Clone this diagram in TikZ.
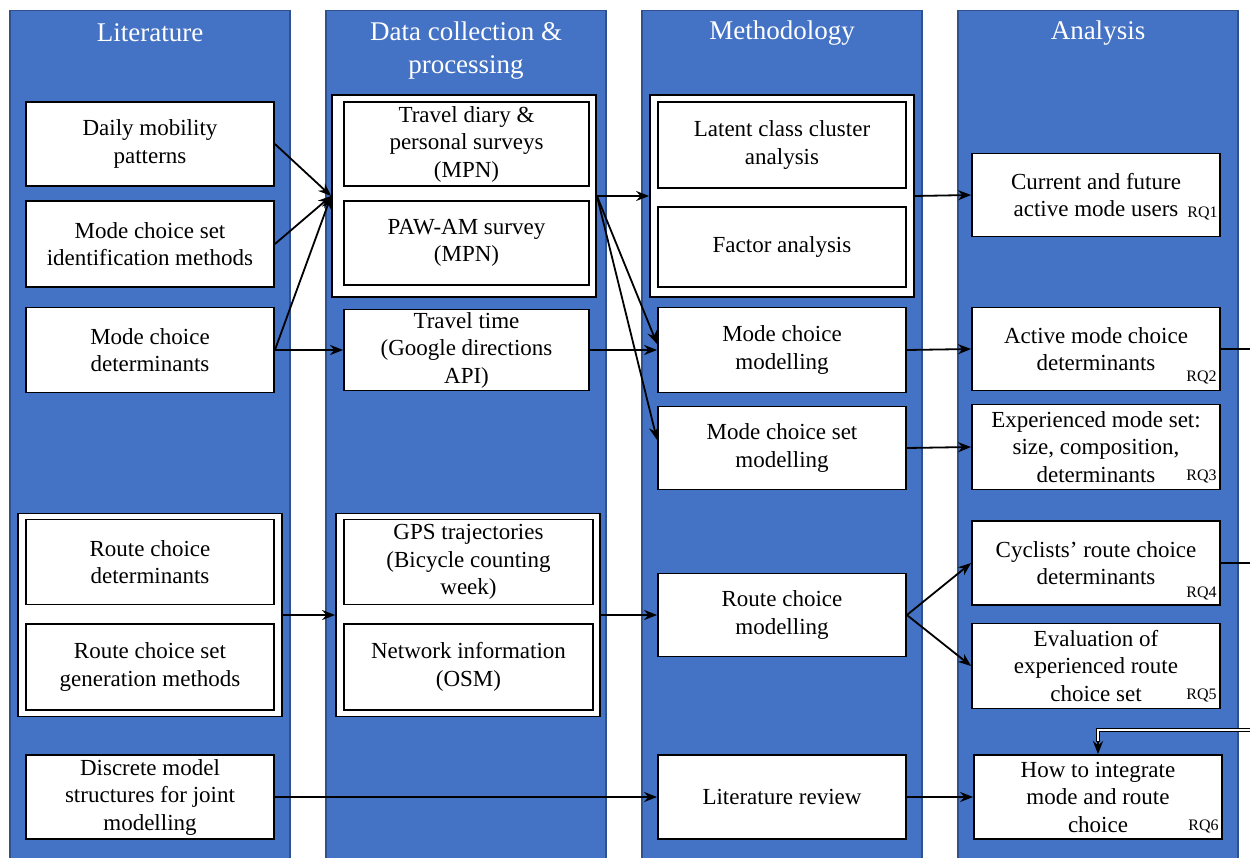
\documentclass[tikz,border=0pt]{standalone}
\usepackage{fontspec}
\setmainfont{Liberation Serif}
\usetikzlibrary{arrows.meta}
\definecolor{colfill}{HTML}{4472C4}
\definecolor{colline}{HTML}{2F528F}
\begin{document}
\begin{tikzpicture}[x=1pt,y=-1pt,
  column/.style={draw=colline, line width=1.2pt, fill=colfill, minimum width=280pt,
    minimum height=856pt, anchor=north, inner sep=0},
  head/.style={text=white, font=\fontsize{27}{33}\selectfont, align=center},
  box/.style={draw, fill=white, line width=1.8pt, minimum width=248pt, align=center,
    inner sep=0, font=\fontsize{23}{27.5}\selectfont},
  group/.style={draw, fill=white, line width=1.8pt, minimum width=264pt, inner sep=0},
  rq/.style={font=\fontsize{16}{16}\selectfont, anchor=base east, inner sep=0},
  arr/.style={line width=1.8pt, -{Stealth[length=13pt,width=10pt]}},
  plain/.style={line width=1.8pt},
  dbl/.style={draw=black, line width=1pt, double=white, double distance=1.2pt},
]
\useasboundingbox (0,0) rectangle (1250,858);

% four column bands
\node[column] (col1) at (150,10) {};
\node[column] (col2) at (466,10) {};
\node[column] (col3) at (782,10) {};
\node[column] (col4) at (1098,10) {};

\node[head] (h1) at (150,33) {Literature};
\node[head] (h2) at (466,51) {Data collection \&\\processing};
\node[head] (h3) at (782,33) {Methodology};
\node[head] (h4) at (1098,33) {Analysis};

% Literature
\node[box, minimum height=84pt] (dmp) at (150,144) {Daily mobility\\patterns};
\node[box, minimum height=86pt] (mcsid) at (150,244) {Mode choice set\\identification methods};
\node[box, minimum height=85pt] (mcd) at (150,350) {Mode choice\\determinants};
\node[group, minimum height=203pt] (grpA) at (150,615) {};
\node[box, minimum height=85pt] (rcd) at (150,562) {Route choice\\determinants};
\node[box, minimum height=86pt] (rcsg) at (150,667) {Route choice set\\generation methods};
\node[box, minimum height=84pt] (dms) at (150,797) {Discrete model\\structures for joint\\modelling};

% Data collection & processing
\node[group, minimum height=202pt] (grpB) at (464,196) {};
\node[box, minimum width=245pt, minimum height=84pt] (diary) at (466.5,144) {Travel diary \&\\personal surveys\\(MPN)};
\node[box, minimum width=245pt, minimum height=84pt] (pawam) at (466.5,243) {PAW-AM survey\\(MPN)};
\node[box, minimum width=245pt, minimum height=81pt] (ttime) at (466.5,350) {Travel time\\(Google directions\\API)};
\node[group, minimum height=203pt] (grpC) at (468,615) {};
\node[box, minimum width=249pt, minimum height=85pt] (gps) at (468.5,562) {GPS trajectories\\(Bicycle counting\\week)};
\node[box, minimum width=249pt, minimum height=86pt] (osm) at (468.5,667) {Network information\\(OSM)};

% Methodology
\node[group, minimum height=202pt] (grpD) at (782,196) {};
\node[box, minimum height=86pt] (lcca) at (782,145) {Latent class cluster\\analysis};
\node[box, minimum height=80pt] (fa) at (782,247) {Factor analysis};
\node[box, minimum height=85pt] (mcm) at (782,350) {Mode choice\\modelling};
\node[box, minimum height=83pt] (mcsm) at (782,448) {Mode choice set\\modelling};
\node[box, minimum height=83pt] (rcm) at (782,615) {Route choice\\modelling};
\node[box, minimum height=84pt] (litrev) at (782,797) {Literature review};

% Analysis
\node[box, minimum height=83pt] (rqa) at (1096,195) {Current and future\\active mode users};
\node[box, minimum height=83pt] (rqb) at (1096,349) {Active mode choice\\determinants};
\node[box, minimum height=85pt] (rqc) at (1096,447) {Experienced mode set:\\size, composition,\\determinants};
\node[box, minimum height=84pt] (rqd) at (1096,563) {Cyclists’ route choice\\determinants};
\node[box, minimum height=85pt] (rqe) at (1096,666) {Evaluation of\\experienced route\\choice set};
\node[box, minimum height=84pt] (rqf) at (1098,797) {How to integrate\\mode and route\\choice};

\node[rq] (lq1) at ([xshift=-3pt,yshift=20pt]rqa.south east) {RQ1};
\node[rq] (lq2) at ([xshift=-4pt,yshift=10pt]rqb.south east) {RQ2};
\node[rq] (lq3) at ([xshift=-4pt,yshift=10pt]rqc.south east) {RQ3};
\node[rq] (lq4) at ([xshift=-4pt,yshift=8pt]rqd.south east) {RQ4};
\node[rq] (lq5) at ([xshift=-4pt,yshift=10pt]rqe.south east) {RQ5};
\node[rq] (lq6) at ([xshift=-4pt,yshift=9pt]rqf.south east) {RQ6};

% connectors
\draw[arr] (dmp.east) -- (grpB.west);
\draw[arr] (mcsid.east) -- (grpB.west);
\draw[arr] (mcd.east) -- (grpB.west);
\draw[arr] (mcd.east) -- (ttime.west);
\draw[arr] (grpA.east) -- (grpC.west);
\draw[arr] (dms.east) -- (litrev.west);

\draw[arr] (grpB.east) -- (grpD.west);
\draw[arr] (grpB.east) -- ([yshift=6pt]mcm.west);
\draw[arr] (grpB.east) -- ([yshift=8pt]mcsm.west);
\draw[arr] (ttime.east) -- (mcm.west);
\draw[arr] (grpC.east) -- (rcm.west);

\draw[arr] (grpD.east) -- (rqa.west);
\draw[arr] (mcm.east) -- (rqb.west);
\draw[arr] (mcsm.east) -- (rqc.west);
\draw[arr] (rcm.east) -- (rqd.west);
\draw[arr] (rcm.east) -- (rqe.west);
\draw[arr] (litrev.east) -- (rqf.west);

% links leaving to the right
\coordinate (outb) at (1250,349);
\coordinate (outd) at (1250,563);
\coordinate (inf) at (1252,730);
\draw[plain] (rqb.east) -- (outb);
\draw[plain] (rqd.east) -- (outd);
\draw[dbl] (inf) -| ([yshift=12pt]rqf.north);
\draw[arr] ([yshift=13pt]rqf.north) -- (rqf.north);
\end{tikzpicture}
\end{document}
